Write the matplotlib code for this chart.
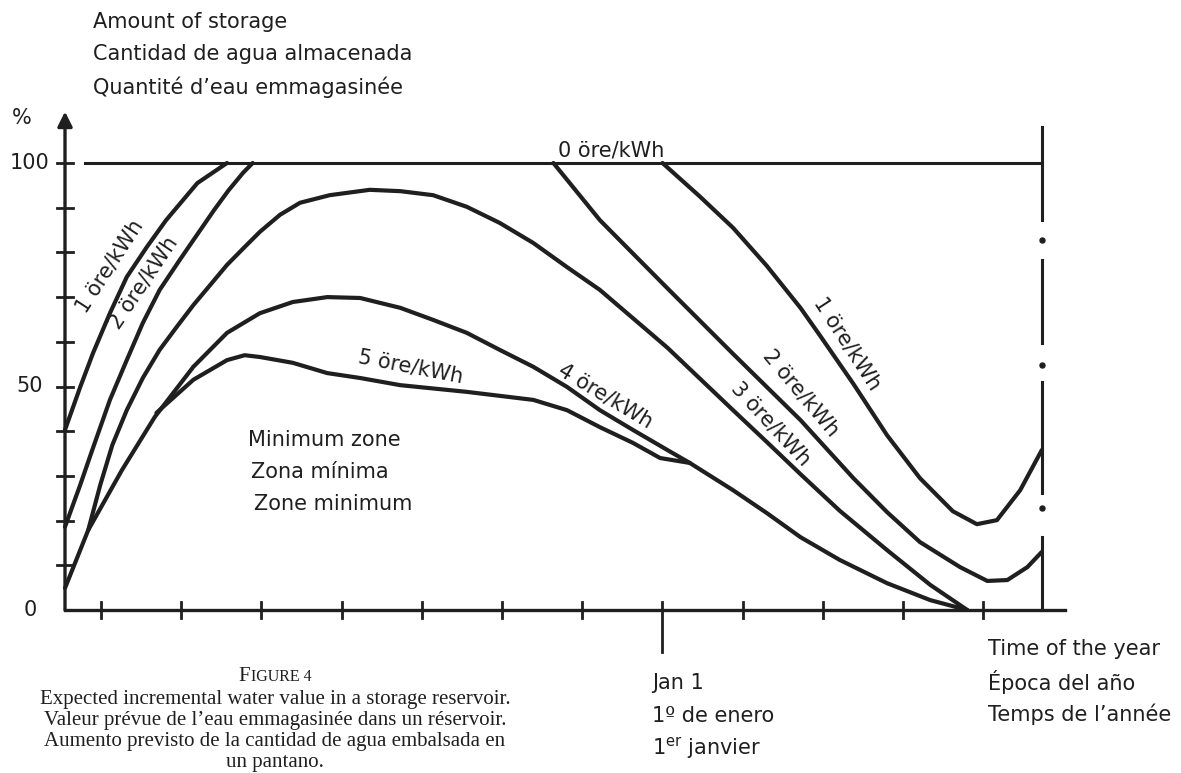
"""
plot.py
-------
Scanned figure: expected incremental water value in a storage reservoir.
x = time of the year (month ticks 1..12, Jan 1 on tick 8), y = % of storage.
"""

import matplotlib.pyplot as plt

# ── Curves ────────────────────────────────────────────────────────────────────
ore1_up_x = [0.55, 0.74, 0.90, 1.11, 1.32, 1.57, 1.81, 2.20, 2.57]
ore1_up_y = [40.3, 49.9, 57.5, 66.4, 74.5, 81.2, 87.2, 95.5, 100]

ore2_up_x = [0.55, 0.74, 0.89, 1.11, 1.32, 1.52, 1.73, 1.98, 2.21, 2.41,
             2.59, 2.77, 2.89]
ore2_up_y = [18.6, 28.0, 35.8, 47.0, 55.9, 64.2, 71.6, 78.3, 84.3, 89.5,
             93.9, 97.8, 100]

ore1_down_x = [8.00, 8.46, 8.88, 9.30, 9.72, 9.96, 10.38, 10.80, 11.21,
               11.62, 11.92, 12.17, 12.46, 12.73]
ore1_down_y = [100, 92.6, 85.5, 77.0, 67.6, 61.5, 50.6, 39.1, 29.5,
               22.1, 19.2, 20.1, 26.8, 35.8]

ore2_down_x = [6.64, 7.22, 8.06, 8.88, 9.72, 10.38, 10.80, 11.21, 11.71,
               12.05, 12.30, 12.55, 12.73]
ore2_down_y = [100, 87.2, 72.0, 57.3, 42.5, 29.5, 21.9, 15.2, 9.6,
               6.5, 6.7, 9.6, 13.0]

ore3_x = [0.84, 0.99, 1.14, 1.32, 1.52, 1.73, 1.95, 2.15, 2.36, 2.57, 2.79,
          2.98, 3.23, 3.48, 3.85, 4.35, 4.73, 5.14, 5.56, 5.97, 6.39, 6.81,
          7.22, 7.63, 8.06, 8.47, 8.88, 9.30, 9.72, 10.21, 10.80, 11.34, 11.80]
ore3_y = [17.9, 28.0, 36.9, 44.7, 51.9, 58.2, 63.5, 68.2, 72.7, 77.2, 81.2,
          84.6, 88.4, 91.1, 92.8, 94.0, 93.7, 92.8, 90.2, 86.6, 82.1, 76.7,
          71.6, 65.3, 58.7, 51.7, 44.7, 37.6, 30.4, 22.2, 13.4, 5.6, 0]

ore4_x = [0.55, 0.84, 1.26, 1.67, 2.15, 2.57, 2.98, 3.39, 3.82, 4.23, 4.73,
          5.14, 5.56, 5.97, 6.39, 6.81, 7.22, 7.63, 8.06, 8.34, 8.88, 9.30,
          9.72, 10.21, 10.80, 11.34, 11.80]
ore4_y = [4.9, 17.9, 31.3, 43.2, 54.4, 62.0, 66.4, 68.9, 70.0, 69.8, 67.6,
          64.9, 62.0, 58.2, 54.4, 49.9, 44.7, 40.3, 35.8, 32.9, 26.8, 21.7,
          16.3, 11.2, 6.0, 2.2, 0]

ore5_x = [1.69, 2.15, 2.57, 2.79, 2.98, 3.39, 3.82, 4.23, 4.73, 5.56, 6.39,
          6.81, 7.22, 7.63, 7.97, 8.34]
ore5_y = [44.1, 51.5, 55.9, 57.0, 56.6, 55.3, 53.0, 51.9, 50.3, 48.8, 47.0,
          44.7, 40.9, 37.4, 34.0, 32.9]

# ── Axes furniture ────────────────────────────────────────────────────────────
full_x = [0.80, 12.73]                     # 100 % line
end_x = 12.73                              # dash-dot line at year end
end_dashes = [(0, 16.3), (26.2, 51.0), (59.7, 78.3), (87.2, 108)]
end_dots = [22.8, 54.8, 82.8]
x_ticks = list(range(1, 13))
jan1_tick = 8
y_ticks = list(range(10, 101, 10))
y_labels = [0, 50, 100]

INK = "#1f1f1f"

# pixel -> data, from where the axes sit in the 1181x773 scan
W, H = 1181, 773
AX_PX, PX_PER_MONTH, AX_X = 65, 80.2, 0.55
ZERO_PY, PX_PER_PCT = 610, 4.47


def d(px, py):
    return AX_X + (px - AX_PX) / PX_PER_MONTH, (ZERO_PY - py) / PX_PER_PCT


fig = plt.figure(figsize=(W / 100, H / 100), dpi=100)
fig.patch.set_facecolor("white")
ax = fig.add_axes([0, 0, 1, 1])
ax.set_xlim(d(0, 0)[0], d(W, 0)[0])
ax.set_ylim(d(0, H)[1], d(0, 0)[1])
ax.axis("off")

curve_kw = dict(color=INK, lw=3.0, solid_joinstyle="round", solid_capstyle="round")
for xs, ys in [(ore1_up_x, ore1_up_y), (ore2_up_x, ore2_up_y),
               (ore1_down_x, ore1_down_y), (ore2_down_x, ore2_down_y),
               (ore3_x, ore3_y), (ore4_x, ore4_y), (ore5_x, ore5_y)]:
    ax.plot(xs, ys, **curve_kw)

# frame
ax.plot(full_x, [100, 100], color=INK, lw=2.2)
ax.plot([AX_X, 13.02], [0, 0], color=INK, lw=2.4)
ax.annotate("", xy=(AX_X, 111.5), xytext=(AX_X, 0),
            arrowprops=dict(arrowstyle="-|>", color=INK, lw=2.4,
                            mutation_scale=22, shrinkA=0, shrinkB=0))
for t in y_ticks:
    ax.plot([AX_X - 0.1, AX_X + 0.1], [t, t], color=INK, lw=2.0)
for t in x_ticks:
    lo = -9.5 if t == jan1_tick else -1.9
    ax.plot([t, t], [lo, 1.9], color=INK, lw=2.0)
for a, b in end_dashes:
    ax.plot([end_x, end_x], [a, b], color=INK, lw=2.2)
ax.plot([end_x] * len(end_dots), end_dots, "o", color=INK, ms=3.6)

sans = dict(family="DejaVu Sans", color=INK, fontsize=15)
for v in y_labels:
    ax.text(d(30, 0)[0], v, str(v), ha="center", va="center", **sans)
ax.text(d(22, 0)[0], d(0, 118)[1], "%", ha="center", va="center", **sans)

for i, line in enumerate(["Amount of storage", "Cantidad de agua almacenada",
                          "Quantité d’eau emmagasinée"]):
    ax.text(*d(93, 22 + 32.5 * i), line, ha="left", va="center", **sans)

for i, line in enumerate(["Minimum zone", "Zona mínima", "Zone minimum"]):
    ax.text(*d(248 + 3 * i, 440 + 32 * i), line, ha="left", va="center", **sans)

lab = dict(ha="center", va="center", rotation_mode="anchor", **sans)
ax.text(*d(611, 151), "0 öre/kWh", **lab)
ax.text(*d(110, 266), "1 öre/kWh", rotation=57, **lab)
ax.text(*d(144, 283), "2 öre/kWh", rotation=56, **lab)
ax.text(*d(411, 367), "5 öre/kWh", rotation=-11, **lab)
ax.text(*d(605, 396), "4 öre/kWh", rotation=-31, **lab)
ax.text(*d(771, 424), "3 öre/kWh", rotation=-47, **lab)
ax.text(*d(801, 393), "2 öre/kWh", rotation=-50, **lab)
ax.text(*d(847, 344), "1 öre/kWh", rotation=-57, **lab)

for i, line in enumerate(["Jan 1", "1º de enero", r"1$^{\rm er}$ janvier"]):
    ax.text(*d(652, 683 + 33 * i), line, ha="left", va="center", **sans)
for i, line in enumerate(["Time of the year", "Época del año",
                          "Temps de l’année"]):
    ax.text(*d(988, 649 + 32.5 * i), line, ha="left", va="center", **sans)

# caption, set in a serif face like the printed page ("FIGURE" in small caps)
serif = dict(family="Liberation Serif", color=INK)
ax.text(*d(238, 681), "F", fontsize=15, ha="left", va="baseline", **serif)
ax.text(*d(251, 681), "IGURE 4", fontsize=11.5, ha="left", va="baseline", **serif)
caption = ["Expected incremental water value in a storage reservoir.",
           "Valeur prévue de l’eau emmagasinée dans un réservoir.",
           "Aumento previsto de la cantidad de agua embalsada en",
           "un pantano."]
ax.text(*d(275, 772), "\n".join(caption), fontsize=15, ha="center",
        va="bottom", linespacing=1.14, **serif)

fig.savefig("out.png", dpi=100, facecolor="white")
